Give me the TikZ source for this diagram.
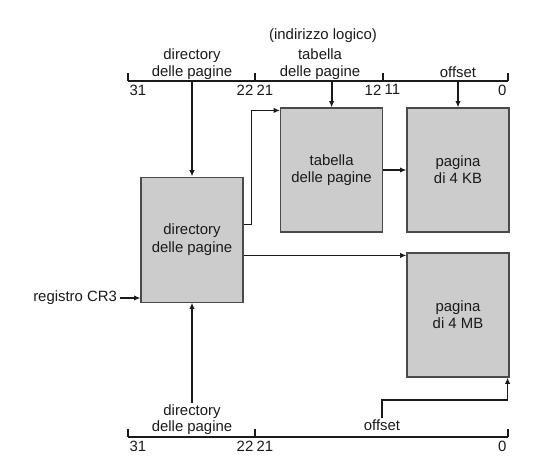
\documentclass[tikz,border=0pt]{standalone}
\usepackage{fontspec}
\setmainfont{Liberation Sans}
\usetikzlibrary{arrows.meta,positioning,calc}
\definecolor{Ink}{HTML}{1A1A1A}
\definecolor{Edge}{HTML}{4A4A4A}
\definecolor{Box}{HTML}{CCCCCC}
\tikzset{
  >={Latex[length=4.5pt,width=3.8pt]},
  blk/.style={rectangle,draw=Edge,line width=.8pt,fill=Box,minimum width=2.55cm,minimum height=3.1cm,align=center,font=\fontsize{10.6}{12.2}\selectfont,text=Ink},
  bar/.style={line width=1.3pt,draw=Ink},
  wire/.style={->,line width=1.3pt,draw=Ink},
  lab/.style={font=\fontsize{10.6}{11.8}\selectfont,align=center,inner sep=1pt,text=Ink},
  num/.style={font=\fontsize{10.6}{11}\selectfont,inner sep=1pt,yshift=-.05cm,text=Ink}
}
\begin{document}
\begin{tikzpicture}[x=1cm,y=1cm]
  \useasboundingbox (0,0) rectangle (13.475,11.65);
  % logical address, top
  \node[lab] (title) at (8.075,10.77) {(indirizzo logico)};
  \coordinate (t31) at (3.2,9.625); \coordinate (t22) at (6.375,9.625);
  \coordinate (t12) at (9.575,9.625); \coordinate (t0) at (12.7,9.625);
  \draw[bar] (t31)--(t0);
  \foreach \c in {t31,t22,t12,t0} \draw[bar] (\c)--++(0,.2);
  \node[num,anchor=north west] (n31) at (t31) {31};
  \node[num,anchor=north east] (n22) at (t22) {22};
  \node[num,anchor=north west] (n21) at (t22) {21};
  \node[num,anchor=north east] (n12) at (t12) {12};
  \node[num,anchor=north west] (n11) at (t12) {11};
  \node[num,anchor=north east] (n0) at (t0) {0};
  \node[lab] (tdir) at (4.8,10.04) {directory\\delle pagine};
  \node[lab] (ttab) at (8.0,10.04) {tabella\\delle pagine};
  \node[lab] (toff) at (11.45,9.84) {offset};
  % blocks
  \node[blk,minimum height=3.125cm] (dir) at (4.8,5.66) {directory\\delle pagine};
  \node[blk] (tab) at (8.29,7.4) {tabella\\delle pagine};
  \node[blk] (p4k) at (11.45,7.4) {pagina\\di 4 KB};
  \node[blk] (p4m) at (11.45,3.775) {pagina\\di 4 MB};
  \node[lab,anchor=east,inner sep=2pt] (cr3) at (3.0,4.2) {registro CR3};
  % logical address, bottom
  \coordinate (b31) at (3.2,.725); \coordinate (b22) at (6.375,.725); \coordinate (b0) at (12.7,.725);
  \draw[bar] (b31)--(b0);
  \foreach \c in {b31,b22,b0} \draw[bar] (\c)--++(0,.2);
  \node[num,anchor=north west] (m31) at (b31) {31};
  \node[num,anchor=north east] (m22) at (b22) {22};
  \node[num,anchor=north west] (m21) at (b22) {21};
  \node[num,anchor=north east] (m0) at (b0) {0};
  \node[lab] (bdir) at (4.8,1.16) {directory\\delle pagine};
  \node[lab] (boff) at (9.55,1.02) {offset};
  % connections
  \coordinate (tabin) at ([yshift=-.075cm]tab.north west);
  \coordinate (m4in) at ([yshift=-.075cm]p4m.north west);
  \draw[wire] (t31 -| dir.north)--(dir.north);
  \draw[wire] (t0 -| tab.north)--(tab.north);
  \draw[wire] (t0 -| p4k.north)--(p4k.north);
  \draw[wire] ([yshift=-1.2cm]dir.north east)--++(.2,0) |- (tabin);
  \draw[wire] (tab.east)--(p4k.west);
  \draw[wire] (dir.east |- m4in)--(m4in);
  \draw[wire] (cr3.east)--(cr3.east -| dir.west);
  \draw[wire] (bdir.north)--(dir.south);
  \draw[wire] (boff.north)--++(0,.45) -| ([xshift=-.05cm]p4m.south east);
\end{tikzpicture}
\end{document}
